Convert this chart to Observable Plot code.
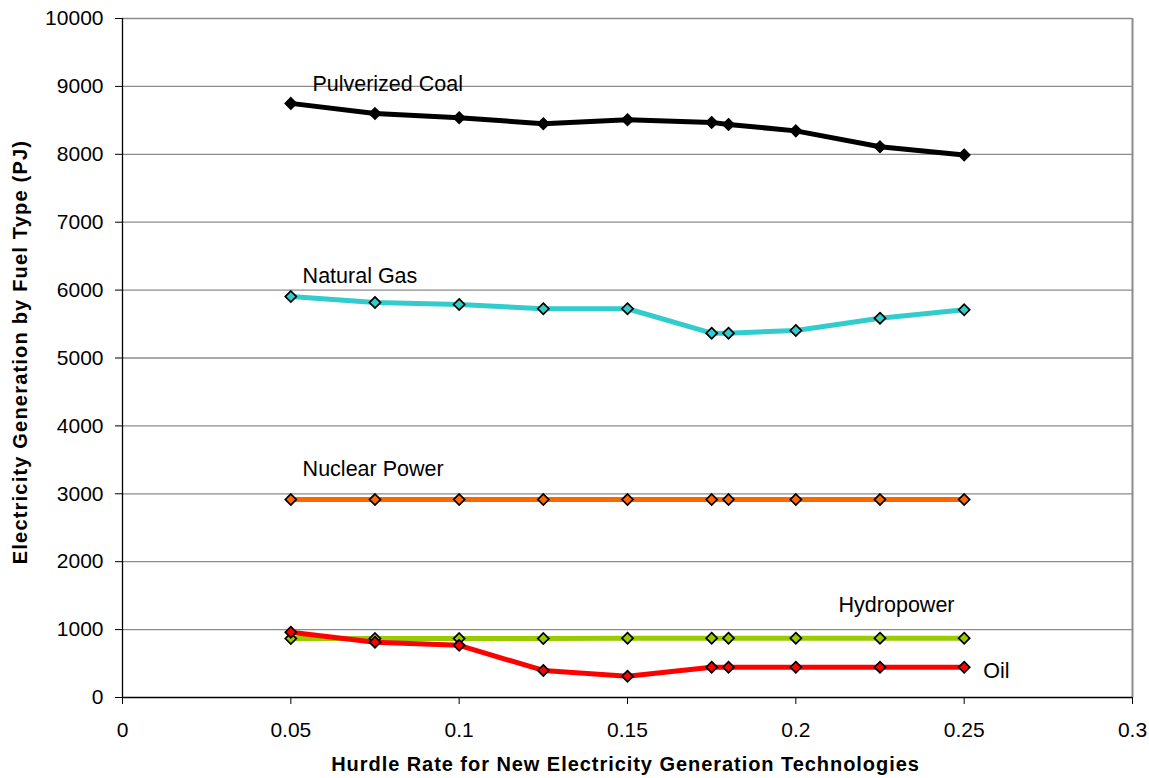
<!DOCTYPE html>
<html>
<head>
<meta charset="utf-8">
<script src="https://cdn.jsdelivr.net/npm/d3@7"></script>
<script src="https://cdn.jsdelivr.net/npm/@observablehq/plot@0.6"></script>
<style>
  html, body { margin: 0; padding: 0; background: #fff; }
  #chart { width: 1149px; height: 778px; }
  .xtitle text, text.xtitle { letter-spacing: 0.95px; }
  .ytitle text, text.ytitle { letter-spacing: 1.2px; }
</style>
</head>
<body>
<div id="chart"></div>
<script>
const hurdleRates = [0.05, 0.075, 0.1, 0.125, 0.15, 0.175, 0.18, 0.2, 0.225, 0.25];
const seriesNames = ["Pulverized Coal", "Natural Gas", "Nuclear Power", "Hydropower", "Oil"];
const seriesColors = ["#000000", "#33CCCC", "#FF6600", "#99CC00", "#FF0000"];
const coal    = [8750, 8600, 8540, 8450, 8510, 8470, 8440, 8345, 8110, 7990];
const gas     = [5905, 5817, 5788, 5725, 5725, 5365, 5365, 5405, 5586, 5710];
const nuclear = [2915, 2915, 2915, 2915, 2915, 2915, 2915, 2915, 2915, 2915];
const hydro   = [868, 868, 868, 868, 873, 873, 873, 873, 873, 873];
const oil     = [962, 815, 768, 398, 314, 446, 446, 446, 446, 446];

const xTicks = [0, 0.05, 0.1, 0.15, 0.2, 0.25, 0.3];
const xTickLabels = ["0", "0.05", "0.1", "0.15", "0.2", "0.25", "0.3"];
const yTicks = [0, 1000, 2000, 3000, 4000, 5000, 6000, 7000, 8000, 9000, 10000];
const yTickLabels = ["0", "1000", "2000", "3000", "4000", "5000", "6000", "7000", "8000", "9000", "10000"];

const xTitle = "Hurdle Rate for New Electricity Generation Technologies";
const yTitle = "Electricity Generation by Fuel Type (PJ)";

// annotation anchors (data space) for series labels
const labelX = [0.0564, 0.0535, 0.0535, 0.2127, 0.2557];
const labelY = [9028, 6200, 3358, 1355, 383];

const seriesValues = [coal, gas, nuclear, hydro, oil];
const rows = [];
seriesNames.forEach((name, s) => {
  hurdleRates.forEach((x, i) => rows.push({series: name, x, y: seriesValues[s][i]}));
});
const labels = seriesNames.map((name, s) => ({text: name, x: labelX[s], y: labelY[s]}));

const font = "'Liberation Sans', Arial, Helvetica, sans-serif";

const plot = Plot.plot({
  width: 1149,
  height: 778,
  marginLeft: 122,
  marginRight: 17,
  marginTop: 18,
  marginBottom: 81,
  style: {fontFamily: font, fontSize: "21px", color: "#000", background: "#fff"},
  x: {domain: [0, 0.3]},
  y: {domain: [0, 10000]},
  color: {domain: seriesNames, range: seriesColors},
  marks: [
    Plot.ruleY(yTicks.filter(d => d > 0), {stroke: "#8c8c8c", strokeWidth: 1.3}),
    Plot.ruleX([0.3], {stroke: "#8c8c8c", strokeWidth: 2}),
    Plot.axisY({ticks: yTicks, tickFormat: (d, i) => yTickLabels[i], tickSize: 7, tickPadding: 12, fontSize: 21, label: null, stroke: "#000"}),
    Plot.axisX({ticks: xTicks, tickFormat: (d, i) => xTickLabels[i], tickSize: 7, tickPadding: 18, fontSize: 21, label: null, stroke: "#000"}),
    Plot.ruleX([0], {stroke: "#000", strokeWidth: 1.3}),
    Plot.ruleY([0], {stroke: "#000", strokeWidth: 1.3}),
    Plot.line(rows, {x: "x", y: "y", z: "series", stroke: "series", strokeWidth: 5}),
    Plot.dot(rows, {x: "x", y: "y", symbol: "diamond2", r: 5, fill: "series", stroke: "#000", strokeWidth: 1.7}),
    Plot.text(labels, {x: "x", y: "y", text: "text", textAnchor: "start", fontSize: 21.5, fill: "#000"}),
    Plot.text([xTitle], {frameAnchor: "bottom", dx: -2, dy: 73, fontSize: 20, fontWeight: "bold", fill: "#000", className: "xtitle"}),
    Plot.text([yTitle], {frameAnchor: "left", textAnchor: "middle", dx: -102, dy: -6, rotate: -90, fontSize: 20, fontWeight: "bold", fill: "#000", className: "ytitle"})
  ]
});
document.getElementById("chart").appendChild(plot);
</script>
</body>
</html>
